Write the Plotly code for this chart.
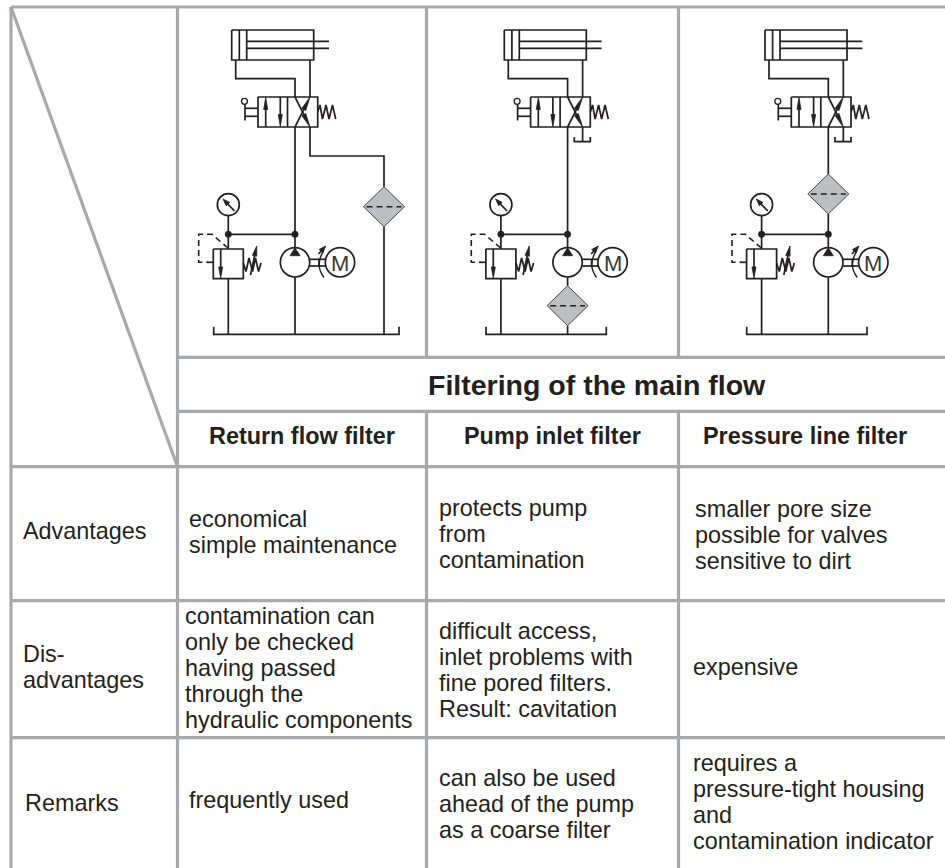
import plotly.graph_objects as go

# ---- table content ----
TITLE = "Filtering of the main flow"
COLUMN_HEADS = ["Return flow filter", "Pump inlet filter", "Pressure line filter"]
ROW_LABELS = [["Advantages"], ["Dis-", "advantages"], ["Remarks"]]
RETURN_FLOW = [["economical", "simple maintenance"],
               ["contamination can", "only be checked", "having passed", "through the", "hydraulic components"],
               ["frequently used"]]
PUMP_INLET = [["protects pump", "from", "contamination"],
              ["difficult access,", "inlet problems with", "fine pored filters.", "Result: cavitation"],
              ["can also be used", "ahead of the pump", "as a coarse filter"]]
PRESSURE_LINE = [["smaller pore size", "possible for valves", "sensitive to dirt"],
                 ["expensive"],
                 ["requires a", "pressure-tight housing", "and", "contamination indicator"]]

# ---- layout constants (pixels) ----
W, H = 945, 868
GRID = "#a7a9ac"
INK = "#231f20"
FILL = "#bcbec0"
FONT = "Liberation Sans"
TXT = 23.4
PITCH = 26
V_LINES = [11, 177.5, 426.5, 678.5]
H_TOP, H_A, H_B, H_C, H_D, H_E = 7, 357.3, 411.3, 466.7, 600.7, 737.7

fig = go.Figure()
gx, gy = [], []
lx, ly = [], []
dx_, dy_ = [], []
shapes = []


def grid(x0, y0, x1, y1):
    gx.extend([x0, x1, None]); gy.extend([y0, y1, None])


def pl(*pts):
    for p in pts:
        lx.append(p[0]); ly.append(p[1])
    lx.append(None); ly.append(None)


def dash(*pts):
    for p in pts:
        dx_.append(p[0]); dy_.append(p[1])
    dx_.append(None); dy_.append(None)


def poly(pts, color=INK):
    xs = [p[0] for p in pts] + [pts[0][0]]
    ys = [p[1] for p in pts] + [pts[0][1]]
    fig.add_trace(go.Scatter(x=xs, y=ys, mode="lines", fill="toself", fillcolor=color,
                             line=dict(color=INK, width=0.8), hoverinfo="skip", showlegend=False))


def arrow(x0, y0, x1, y1, hl=8, hw=2.2):
    L = ((x1 - x0) ** 2 + (y1 - y0) ** 2) ** 0.5
    ux, uy = (x1 - x0) / L, (y1 - y0) / L
    bx, by = x1 - ux * hl, y1 - uy * hl
    pl((x0, y0), (bx, by))
    poly([(x1, y1), (bx - uy * hw, by + ux * hw), (bx + uy * hw, by - ux * hw)])


def circle(cx, cy, r, fill=None, lw=1.7):
    shapes.append(dict(type="circle", xref="x", yref="y", x0=cx - r, x1=cx + r, y0=cy - r, y1=cy + r,
                       line=dict(color=INK, width=lw),
                       fillcolor=fill if fill else "rgba(0,0,0,0)"))


def filter_symbol(cx, cy):
    hw, hh = 20.5, 20
    poly([(cx, cy - hh), (cx + hw, cy), (cx, cy + hh), (cx - hw, cy)], FILL)
    dash((cx - hw + 3, cy), (cx + hw - 3, cy))


def diagram(d, kind):
    # cylinder
    pl((231.7 + d, 30), (313.7 + d, 30), (313.7 + d, 60), (231.7 + d, 60), (231.7 + d, 30))
    pl((239.3 + d, 30), (239.3 + d, 60))
    pl((246.7 + d, 30), (246.7 + d, 60))
    pl((246.7 + d, 41.3), (329 + d, 41.3))
    pl((246.7 + d, 48.3), (329 + d, 48.3))
    pl((235.7 + d, 60), (235.7 + d, 78.7), (295 + d, 78.7), (295 + d, 97))
    pl((310 + d, 60), (310 + d, 97))
    # valve
    pl((258 + d, 97), (317.7 + d, 97), (317.7 + d, 127), (258 + d, 127), (258 + d, 97))
    pl((287.5 + d, 97), (287.5 + d, 127))
    arrow(265.7 + d, 127, 265.7 + d, 97.5, 12, 2)
    arrow(280.3 + d, 97, 280.3 + d, 126.5, 12, 2)
    arrow(295 + d, 127, 310 + d, 97, 14, 2.2)
    arrow(295 + d, 97, 310 + d, 127, 14, 2.2)
    # lever
    pl((258 + d, 108.3), (245 + d, 108.3))
    pl((258 + d, 116.3), (245 + d, 116.3))
    pl((245 + d, 104.5), (245 + d, 120.5))
    circle(244.5 + d, 101.3, 3, lw=1.3)
    # valve spring
    pl((317.7 + d, 112), (320 + d, 105), (322.5 + d, 119), (326 + d, 105), (329 + d, 119), (332.5 + d, 105),
       (335.7 + d, 119))
    # gauge
    circle(228.3 + d, 204.7, 11)
    arrow(234.5 + d, 211, 223 + d, 199, 7, 2.4)
    pl((228.3 + d, 215.7), (228.3 + d, 249))
    pl((228.3 + d, 234.3), (295 + d, 234.3))
    circle(228.3 + d, 234.3, 3.2, INK, 0.5)
    circle(295 + d, 234.3, 3.2, INK, 0.5)
    # relief valve
    pl((213.3 + d, 249), (243.3 + d, 249), (243.3 + d, 278.7), (213.3 + d, 278.7), (213.3 + d, 249))
    arrow(220.7 + d, 249, 220.7 + d, 278, 11, 2)
    pl((228.3 + d, 278.7), (228.3 + d, 334.3))
    dash((228 + d, 248), (212 + d, 234.3), (198.7 + d, 234.3), (198.7 + d, 262.3), (208 + d, 262.3))
    pl((207 + d, 262.3), (213.3 + d, 262.3))
    pl((243.3 + d, 263), (246 + d, 271.5), (249 + d, 258), (252.5 + d, 271.5), (255.5 + d, 258), (258.5 + d, 271.5),
       (261 + d, 263))
    arrow(250.5 + d, 275, 256.7 + d, 246, 10, 2.2)
    # pump and motor
    circle(295 + d, 262.3, 14.7)
    poly([(295 + d, 247.8), (300 + d, 255.7), (290 + d, 255.7)])
    pl((309.7 + d, 259.3), (325.5 + d, 259.3))
    pl((309.7 + d, 266), (325.5 + d, 266))
    pl((319 + d, 259.3), (319 + d, 266))
    circle(340 + d, 262.3, 14.7)
    shapes.append(dict(type="path", xref="x", yref="y", line=dict(color=INK, width=1.4),
                       path=f"M {323.5 + d} 251 Q {314.5 + d} 265 {324 + d} 277.5"))
    arrow(318.5 + d, 254, 325.7 + d, 246, 7, 2.5)
    fig.add_annotation(x=340 + d, y=263.3, text="M", showarrow=False, xanchor="center", yanchor="middle",
                       font=dict(family=FONT, size=22, color="#3a3637"), borderpad=0, borderwidth=0)
    # supply line and tank
    if kind == "return":
        pl((295 + d, 127), (295 + d, 247.8))
        pl((295 + d, 277), (295 + d, 334.3))
        pl((310 + d, 127), (310 + d, 156), (384 + d, 156), (384 + d, 186.7))
        filter_symbol(384 + d, 206.7)
        pl((384 + d, 226.7), (384 + d, 334.3))
        pl((213.7 + d, 326.7), (213.7 + d, 334.3), (399 + d, 334.3), (399 + d, 326.7))
    else:
        pl((310 + d, 127), (310 + d, 141.7))
        pl((301.7 + d, 137), (301.7 + d, 141.7), (317.7 + d, 141.7), (317.7 + d, 137))
        pl((213.4 + d, 326.7), (213.4 + d, 334.3), (333.7 + d, 334.3), (333.7 + d, 326.7))
        if kind == "inlet":
            pl((295 + d, 127), (295 + d, 247.8))
            pl((295 + d, 277), (295 + d, 285.7))
            filter_symbol(295 + d, 305.7)
            pl((295 + d, 325.7), (295 + d, 334.3))
        else:
            pl((295 + d, 127), (295 + d, 174))
            filter_symbol(295 + d, 194)
            pl((295 + d, 214), (295 + d, 247.8))
            pl((295 + d, 277), (295 + d, 334.3))


# ---- grid ----
grid(V_LINES[0], H_TOP, V_LINES[0], H)
grid(V_LINES[1], H_TOP, V_LINES[1], H)
for v in V_LINES[2:]:
    grid(v, H_TOP, v, H_A)
    grid(v, H_B, v, H)
grid(V_LINES[1], H_A, W, H_A)
grid(V_LINES[1], H_B, W, H_B)
grid(V_LINES[0], H_C, W, H_C)
grid(V_LINES[0], H_D, W, H_D)
grid(V_LINES[0], H_E, W, H_E)
grid(V_LINES[0], H_TOP, V_LINES[1], H_C)
grid(V_LINES[0], H_TOP, W, H_TOP)

diagram(0, "return")
diagram(272.6, "inlet")
diagram(533.3, "pressure")

fig.add_trace(go.Scatter(x=gx, y=gy, mode="lines", line=dict(color=GRID, width=3.2),
                         hoverinfo="skip", showlegend=False))
fig.add_trace(go.Scatter(x=lx, y=ly, mode="lines", line=dict(color=INK, width=1.7),
                         hoverinfo="skip", showlegend=False))
fig.add_trace(go.Scatter(x=dx_, y=dy_, mode="lines", line=dict(color=INK, width=1.6, dash="6px,4px"),
                         hoverinfo="skip", showlegend=False))


# ---- text ----
def text(x, y, s, size=TXT, bold=False, anchor="left"):
    fig.add_annotation(x=x, y=y, text=f"<b>{s}</b>" if bold else s, showarrow=False,
                       xanchor=anchor, yanchor="middle", align=anchor,
                       font=dict(family=FONT, size=size, color=INK), borderpad=0, borderwidth=0)


def block(x, y0, lines):
    for i, s in enumerate(lines):
        text(x, y0 + i * PITCH, s)


text(596.5, 385, TITLE, size=28.5, bold=True, anchor="center")
for cx, s in zip([301.5, 552, 805], COLUMN_HEADS):
    text(cx, 436, s, size=23.4, bold=True, anchor="center")

block(22.5, 531, ROW_LABELS[0])
block(22.5, 653.5, ROW_LABELS[1])
block(25, 803, ROW_LABELS[2])
block(188.5, 519, RETURN_FLOW[0])
block(185, 615.5, RETURN_FLOW[1])
block(188.5, 800, RETURN_FLOW[2])
block(439.3, 508, PUMP_INLET[0])
block(439.3, 630.5, PUMP_INLET[1])
block(439.3, 777.5, PUMP_INLET[2])
block(695, 509, PRESSURE_LINE[0])
block(693.3, 667, PRESSURE_LINE[1])
block(693.3, 763, PRESSURE_LINE[2])

fig.update_layout(width=W, height=H, margin=dict(l=0, r=0, t=0, b=0), paper_bgcolor="white",
                  plot_bgcolor="white", showlegend=False, shapes=shapes,
                  xaxis=dict(range=[0, W], visible=False, fixedrange=True),
                  yaxis=dict(range=[H, 0], visible=False, fixedrange=True))
fig.write_html("out.html", post_script="document.body.style.margin='0';document.documentElement.style.overflow='hidden';",
               config={"displayModeBar": False})
